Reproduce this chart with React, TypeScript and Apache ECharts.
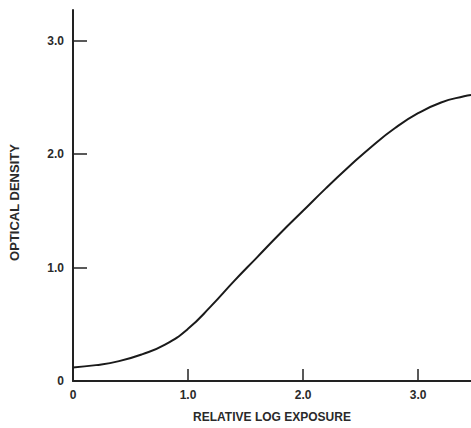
import React, { useEffect, useRef } from "react";
import * as echarts from "echarts";

const exposure = [0, 0.2, 0.4, 0.6, 0.8, 1.0, 1.2, 1.4, 1.6, 1.8, 2.0, 2.2, 2.4, 2.6, 2.8, 3.0, 3.2, 3.4, 3.46];
const density = [0.12, 0.14, 0.175, 0.235, 0.32, 0.46, 0.66, 0.88, 1.09, 1.3, 1.5, 1.7, 1.89, 2.07, 2.23, 2.36, 2.455, 2.51, 2.52];
const xTicks = [0, 1, 2, 3];
const yTicks = [0, 1, 2, 3];
const fmt = (v: number) => (v === 0 ? "0" : v.toFixed(1));

export default function App() {
  const ref = useRef<HTMLDivElement>(null);
  useEffect(() => {
    if (!ref.current) return;
    const chart = echarts.init(ref.current, undefined, { renderer: "svg" });
    const font = "'Liberation Sans', Arial, sans-serif";
    const lab = { color: "#2a2a2a", fontSize: 12, fontFamily: font, fontWeight: "bold" };
    chart.setOption({
      animation: false,
      backgroundColor: "#ffffff",
      grid: { left: 72.5, right: 0, top: 10, bottom: 46 },
      xAxis: {
        type: "value",
        min: 0,
        max: 3.46,
        name: "RELATIVE LOG EXPOSURE",
        nameLocation: "middle",
        nameGap: 30,
        nameTextStyle: { ...lab, fontSize: 12 },
        axisLine: { show: true, lineStyle: { color: "#222", width: 2 } },
        axisTick: { show: true, inside: true, length: 12, lineStyle: { color: "#222", width: 1.5 }, customValues: xTicks },
        axisLabel: { ...lab, margin: 8, customValues: xTicks, formatter: fmt },
        splitLine: { show: false },
      },
      yAxis: {
        type: "value",
        min: 0,
        max: 3.27,
        name: "OPTICAL DENSITY",
        nameLocation: "middle",
        nameGap: 52,
        nameTextStyle: { ...lab, fontSize: 13, padding: [0, 14, 0, 0] },
        axisLine: { show: true, lineStyle: { color: "#222", width: 2 } },
        axisTick: { show: true, inside: true, length: 14, lineStyle: { color: "#222", width: 1.5 }, customValues: yTicks },
        axisLabel: { ...lab, margin: 9, customValues: yTicks, formatter: fmt },
        splitLine: { show: false },
      },
      series: [
        {
          type: "line",
          data: exposure.map((x, i) => [x, density[i]]),
          smooth: 0.5,
          showSymbol: false,
          lineStyle: { color: "#1a1a1a", width: 2 },
        },
      ],
    });
    return () => chart.dispose();
  }, []);
  return <div ref={ref} style={{ position: "fixed", left: 0, top: 0, width: 471, height: 428 }} />;
}
